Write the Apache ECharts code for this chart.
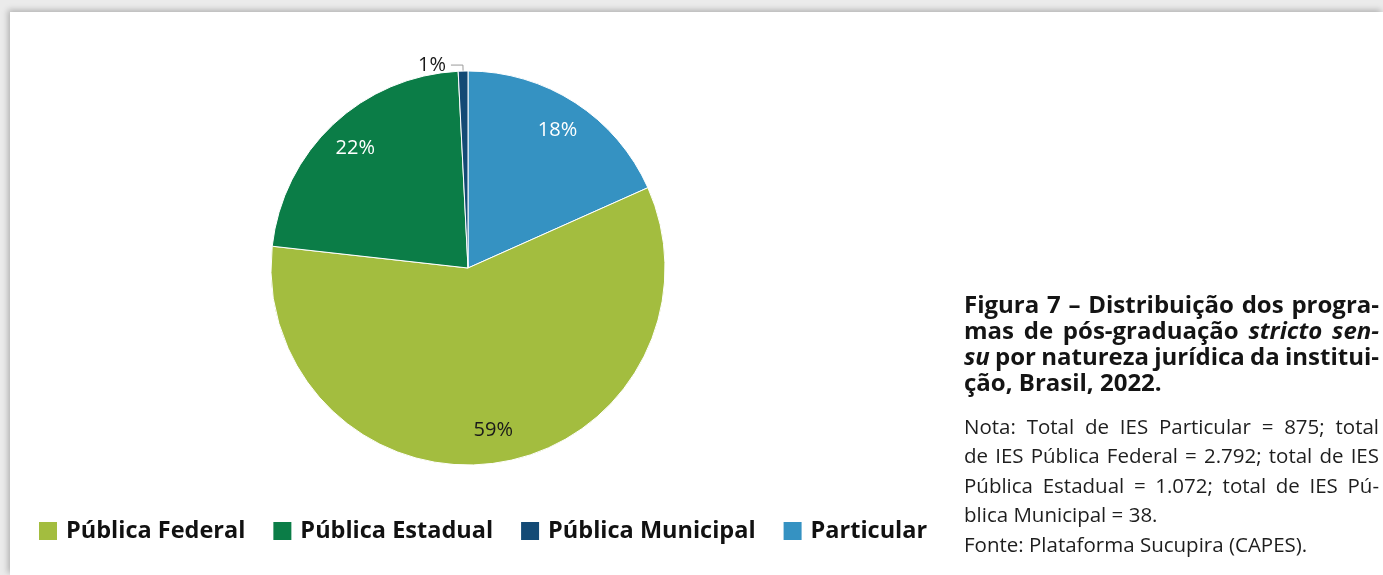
<!DOCTYPE html>
<html>
<head>
<meta charset="utf-8">
<script src="https://cdn.jsdelivr.net/npm/echarts@6/dist/echarts.min.js"></script>
<style>
  html, body { margin: 0; padding: 0; background: #ebebeb; }
  #panel {
    position: absolute; left: 10px; top: 12px; width: 1373px; height: 563px;
    background: #fff; box-shadow: -2px -2px 6px rgba(0,0,0,0.25);
  }
  #chart { position: absolute; left: 0; top: 0; width: 1383px; height: 575px; }
</style>
</head>
<body>
<div id="panel"></div>
<div id="chart"></div>
<script>
// pie data, clockwise from the top
const categories = ['Particular', 'Pública Federal', 'Pública Estadual', 'Pública Municipal'];
const totals = [875, 2792, 1072, 38];
const colors = ['#3592c2', '#a3bd3f', '#0b7d47', '#134a75'];
const labelColors = ['#ffffff', '#1a1a1a', '#ffffff', '#1a1a1a'];
const legendOrder = ['Pública Federal', 'Pública Estadual', 'Pública Municipal', 'Particular'];

// caption lines, words starting with _ are italic
const titleLines = [
    'Figura 7 – Distribuição dos progra-',
    'mas de pós-graduação _stricto _sen-',
    '_su por natureza jurídica da institui-',
    'ção, Brasil, 2022.'
];
const noteLines = [
    'Nota: Total de IES Particular = 875; total',
    'de IES Pública Federal = 2.792; total de IES',
    'Pública Estadual = 1.072; total de IES Pú-',
    'blica Municipal = 38.',
    'Fonte: Plataforma Sucupira (CAPES).'
];

const chart = echarts.init(document.getElementById('chart'));

const ctx = document.createElement('canvas').getContext('2d');
const FAMILY = '"Open Sans", "Noto Sans", sans-serif';

// justified text block, one text element per word
function buildLines(lines, y0, lineH, weight, size, justifyUntil, color) {
    const left = 964, right = 1379;
    const els = [];
    lines.forEach((line, li) => {
        const words = line.split(' ').map(w => {
            const it = w.startsWith('_');
            return {text: it ? w.slice(1) : w, italic: it};
        });
        const fontOf = w => (w.italic ? 'italic ' : '') + weight + ' ' + size + 'px ' + FAMILY;
        words.forEach(w => { ctx.font = fontOf(w); w.width = ctx.measureText(w.text).width; });
        ctx.font = weight + ' ' + size + 'px ' + FAMILY;
        let gap = ctx.measureText(' ').width;
        if (li < justifyUntil && words.length > 1) {
            const sum = words.reduce((s, w) => s + w.width, 0);
            gap = (right - left - sum) / (words.length - 1);
        }
        let x = left;
        const y = y0 + li * lineH;
        words.forEach(w => {
            els.push({
                type: 'text', x: x, y: y, silent: true,
                style: {text: w.text, font: fontOf(w), fill: color, textVerticalAlign: 'middle'}
            });
            x += w.width + gap;
        });
    });
    return els;
}

const pieData = categories.map((name, i) => ({
    name: name, value: totals[i], itemStyle: {color: colors[i]}
}));

const labelData = categories.map((name, i) => ({
    name: name, value: totals[i],
    label: i === 3
        ? {position: 'outside', color: labelColors[i], padding: [0, 0, 10, 0]}
        : {position: 'inside', color: labelColors[i]},
    labelLine: {show: i === 3}
}));

const option = {
    animation: false,
    legend: {
        left: 37, top: 519, padding: 0,
        itemWidth: 20, itemHeight: 20, itemGap: 26,
        icon: 'rect',
        selectedMode: false,
        data: legendOrder.map(n => ({name: n, itemStyle: {color: colors[categories.indexOf(n)]}})),
        textStyle: {fontFamily: FAMILY, fontWeight: 'bold', fontSize: 23.5, color: '#111', padding: [0, 0, 0, 3]}
    },
    series: [
        {
            type: 'pie',
            center: [468, 268],
            radius: [0, 197],
            startAngle: 90,
            clockwise: true,
            percentPrecision: 0,
            label: {show: false},
            labelLine: {show: false},
            itemStyle: {borderColor: '#fff', borderWidth: 1},
            emphasis: {disabled: true},
            data: pieData
        },
        {
            // transparent ring, only carries the percentage labels
            type: 'pie',
            center: [468, 268],
            radius: [126, 197],
            startAngle: 90,
            clockwise: true,
            percentPrecision: 0,
            silent: true,
            avoidLabelOverlap: false,
            itemStyle: {color: 'rgba(0,0,0,0)'},
            label: {
                show: true, formatter: '{d}%',
                fontFamily: FAMILY, fontSize: 20
            },
            labelLine: {
                length: 6, length2: 12,
                lineStyle: {color: '#9a9a9a', width: 1}
            },
            emphasis: {disabled: true},
            data: labelData
        }
    ],
    graphic: [].concat(
        buildLines(titleLines, 306, 26, 'bold', 24, 3, '#141414'),
        buildLines(noteLines, 428, 29.5, 'normal', 20.5, 3, '#1e1e1e')
    )
};

chart.setOption(option);
</script>
</body>
</html>
